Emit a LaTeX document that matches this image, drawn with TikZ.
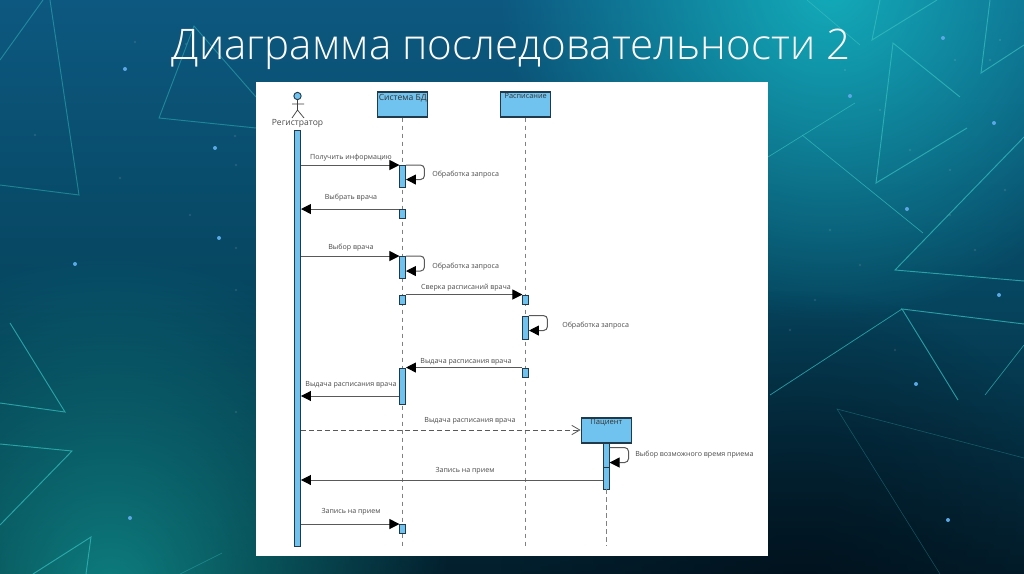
\documentclass[tikz,border=0pt]{standalone}
\usepackage{fontspec}
\setmainfont{Open Sans}
\newfontfamily\titlefont{Open Sans Light}
\usetikzlibrary{arrows.meta,fadings}
\definecolor{barblue}{HTML}{6FC3EE}
\definecolor{edge}{HTML}{1F3A4A}
\definecolor{tealline}{HTML}{35BDBD}
\definecolor{txt}{HTML}{4A4A4A}
\definecolor{bgtop}{HTML}{0D5880}
\definecolor{bgmid}{HTML}{064660}
\definecolor{bgbot}{HTML}{031E2C}
\definecolor{glowa}{HTML}{14B9C3}
\definecolor{glowb}{HTML}{109694}
\definecolor{glowc}{HTML}{000A14}
\definecolor{stardot}{HTML}{5AA8E6}
\tikzfading[name=glow, inner color=transparent!0, outer color=transparent!100]
\tikzset{
  x=0.75pt,y=-0.75pt,
  bar/.style={draw=edge,line width=0.7pt,fill=barblue,inner sep=0pt,minimum width=4.2pt,minimum height=#1*0.75pt},
  objbox/.style={draw=edge,line width=0.8pt,fill=barblue,inner sep=0pt,minimum width=37.8pt,minimum height=18.75pt},
  msg/.style={draw=black!65,line width=0.75pt,-{Triangle[length=7.5pt,width=7.5pt,color=black]}},
  ret/.style={draw=black!65,line width=0.6pt,dash pattern=on 3.5pt off 2.5pt,-{Straight Barb[length=6pt,width=7pt,color=black!65]}},
  life/.style={draw=black!50,line width=0.8pt,dash pattern=on 3.6pt off 2.4pt},
  lab/.style={font=\fontsize{5.3}{6}\selectfont,text=txt,inner sep=0pt,yshift=-0.7pt},
  objlab/.style={font=\fontsize{6.4}{7}\selectfont,text=black!80,inner sep=0pt,yshift=-0.5pt},
  tri/.style={draw=tealline,line width=#1,line join=miter},
  tri/.default=0.7pt,
  stardot/.style={fill=stardot,circle,inner sep=0pt,minimum size=3pt}
}
\begin{document}
\begin{tikzpicture}
\useasboundingbox (0,0) rectangle (1024,574);
\begin{scope}
\clip (0,0) rectangle (1024,574);
% background
\shade[top color=bgtop,bottom color=bgbot,middle color=bgmid] (0,0) rectangle (1024,574);
\fill[glowa,path fading=glow,opacity=.85] (830,-10) circle (330);
\fill[glowb,path fading=glow,opacity=.8] (110,590) circle (340);
\fill[glowc,path fading=glow,opacity=.6] (800,590) circle (300);
% triangles
\begin{scope}[opacity=.5]
\draw[tri] (0,60) -- (43,0);
\draw[tri] (50,0) -- (79,195) -- (0,185);
\draw[tri] (256,97) -- (194,26) -- (159,118) -- (256,128);
\end{scope}
\begin{scope}[opacity=.75]
\draw[tri] (10,323) -- (65,412) -- (0,403);
\draw[tri] (0,444) -- (72,451) -- (0,525);
\draw[tri] (33,574) -- (91,537) -- (86,574);
\draw[tri=0.5pt,opacity=.4] (180,574) -- (222,553);
\draw[tri] (880,0) -- (872,40) -- (937,0);
\draw[tri] (990,0) -- (981,73) -- (1024,45);
\draw[tri] (960,97) -- (893,43) -- (876,183) -- (967,128);
\draw[tri=0.5pt] (807,0) -- (860,45);
\draw[tri=0.5pt] (802,135) -- (923,233);
\draw[tri=0.5pt] (768,157) -- (855,103);
\draw[tri] (1024,137) -- (895,270) -- (1024,281);
\draw[tri] (958,400) -- (902,309) -- (1024,324);
\draw[tri=0.55pt] (902,309) -- (770,395);
\draw[tri=0.5pt,opacity=.7] (1024,345) -- (985,395);
\draw[tri=0.4pt,opacity=.35] (1024,458) -- (837,409) -- (940,574);
\end{scope}
% stars
\foreach \p in {(125,69),(215,148),(75,264),(219,238),(130,518),(943,38),(850,96),(994,123),(907,209),(999,295),(916,384),(948,520)}
  \node[stardot] at \p {};
\foreach \p in {(186,44),(235,136),(236,165),(190,215),(135,42),(120,178),(35,135),(236,248),(236,412),(236,290),(845,70),(880,110),(910,150),(950,170),(990,60),(1005,190),(830,230),(860,265),(815,300),(950,215),(975,250),(895,350),(790,330),(1000,40),(955,60)}
  \node[fill=white,opacity=.1,circle,inner sep=0pt,minimum size=2pt] at \p {};
\end{scope}
% title
\node[font=\titlefont\fontsize{31.6}{34}\selectfont,text=white,inner sep=0pt] (title) at (511,49) {Диаграмма последовательности 2};
% panel
\node[fill=white,draw=none,inner sep=0pt,minimum width=384pt,minimum height=355.5pt] (panel) at (512,319) {};
\coordinate (end) at (0,546);
% actor
\node[circle,draw=edge,line width=0.7pt,fill=barblue,inner sep=0pt,minimum size=5.5pt] (head) at (297.5,96) {};
\coordinate (hip) at (297.5,110);
\coordinate (armL) at (292,104);
\coordinate (armR) at (304,104);
\coordinate (legL) at (292,118);
\coordinate (legR) at (304,118);
\draw[black!75,line width=0.55pt] (head.south) -- (hip) (armL) -- (armR) (legL) -- (hip) -- (legR);
\node[objlab,text=black!70] (reglab) at (297.5,122.5) {Регистратор};
% objects
\node[objbox] (sys) at (402.7,104.5) {};
\node[objlab] (syslab) at (402.7,97.5) {Система БД};
\node[objbox] (sch) at (525.7,104.5) {};
\node[objlab,font=\fontsize{5.5}{6}\selectfont] (schlab) at (525.7,95.5) {Расписание};
\node[objbox] (pat) at (606.3,430.5) {};
\node[objlab,font=\fontsize{5.7}{6}\selectfont] (patlab) at (606.3,422) {Пациент};
% bars
\node[bar=416] (reg) at (297.7,338) {};
\node[bar=46] (pbar) at (606.3,466) {};
\coordinate (pm) at (0,467);
\draw[life] (sys.south) -- (sys.south |- end);
\draw[life] (sch.south) -- (sch.south |- end);
\draw[life] (pbar.south) -- (pbar.south |- end);
\draw[edge,line width=0.5pt] (pbar.west |- pm) -- (pbar.east |- pm);
\node[bar=22] (s1) at (402.7,176.5) {};
\node[bar=9] (s2) at (402.7,214) {};
\node[bar=22] (s3) at (402.7,267.5) {};
\node[bar=9] (s4) at (402.7,299.5) {};
\node[bar=36] (s5) at (402.7,386) {};
\node[bar=9] (s6) at (402.7,529) {};
\node[bar=9] (r1) at (525.7,299.5) {};
\node[bar=23] (r2) at (525.7,327.5) {};
\node[bar=9] (r3) at (525.7,372.5) {};
% messages
\coordinate (m396) at (0,396);
\coordinate (m430) at (0,430);
\coordinate (m480) at (0,480);
\draw[msg] (reg.east |- s1.north) -- (s1.north west);
\draw[msg] (s2.north west) -- (reg.east |- s2.north);
\draw[msg] (reg.east |- s3.north) -- (s3.north west);
\draw[msg] (s4.north east) -- (r1.north west);
\draw[msg] (r3.north west) -- (s5.north east);
\draw[msg] (s5.west |- m396) -- (reg.east |- m396);
\draw[ret] (reg.east |- m430) -- (pat.west |- m430);
\draw[msg] (pbar.west |- m480) -- (reg.east |- m480);
\draw[msg] (reg.east |- s6.north) -- (s6.north west);
\draw[msg,rounded corners=3pt] (s1.north east) -- ++(18.5,0) -- ++(0,14.5) -- ++(-18.5,0);
\draw[msg,rounded corners=3pt] (s3.north east) -- ++(18.5,0) -- ++(0,15) -- ++(-18.5,0);
\draw[msg,rounded corners=3pt] (r2.north east) -- ++(18.5,0) -- ++(0,15) -- ++(-18.5,0);
\draw[msg,rounded corners=3pt] ([yshift=-3.75pt]pbar.north east) -- ++(19,0) -- ++(0,15) -- ++(-19,0);
% labels
\node[lab] (l1) at (351,156.5) {Получить информацию};
\node[lab,anchor=west] (l2) at (432,173.5) {Обработка запроса};
\node[lab] (l3) at (351,197) {Выбрать врача};
\node[lab] (l4) at (351,247) {Выбор врача};
\node[lab,anchor=west] (l5) at (432,265.5) {Обработка запроса};
\node[lab] (l6) at (466,287) {Сверка расписаний врача};
\node[lab,anchor=west] (l7) at (562,325) {Обработка запроса};
\node[lab] (l8) at (466,361) {Выдача расписания врача};
\node[lab] (l9) at (351,383.5) {Выдача расписания врача};
\node[lab] (l10) at (470,419.5) {Выдача расписания врача};
\node[lab,anchor=west] (l11) at (635,454) {Выбор возможного время приема};
\node[lab] (l12) at (465,469.5) {Запись на прием};
\node[lab] (l13) at (351,511) {Запись на прием};
\end{tikzpicture}
\end{document}
